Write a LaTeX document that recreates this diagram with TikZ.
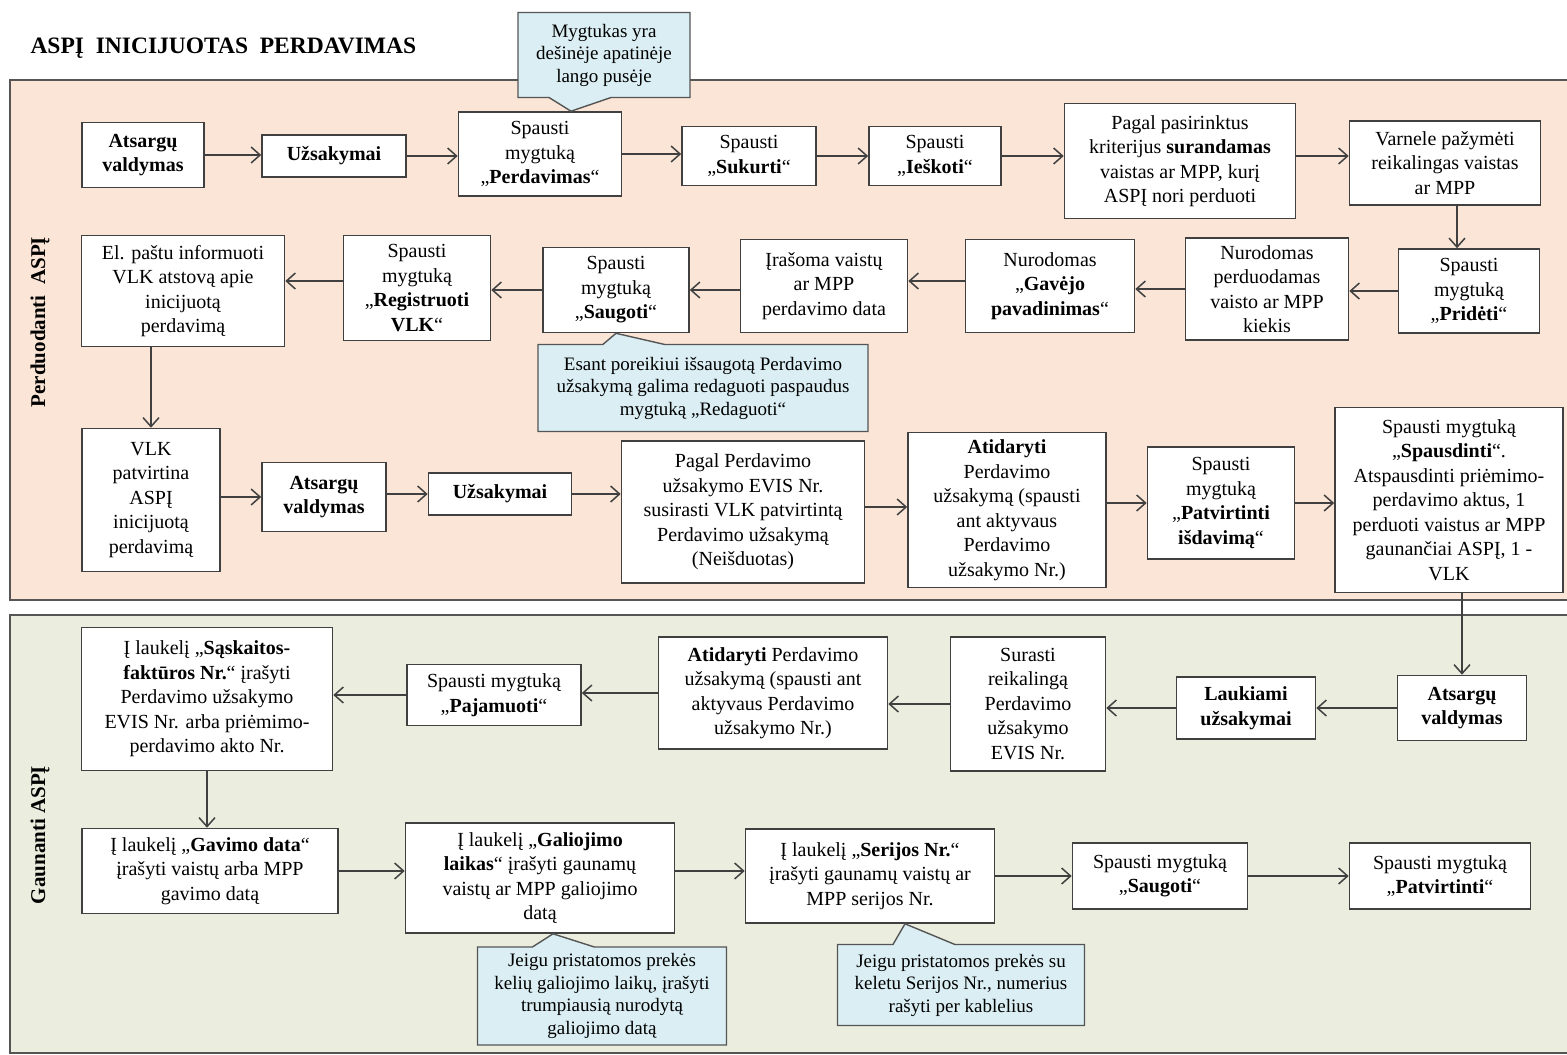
\documentclass[tikz,border=0pt]{standalone}
\usepackage{fontspec}
\setmainfont{Liberation Serif}
\usetikzlibrary{arrows.meta,shapes.callouts,calc}

\definecolor{peach}{HTML}{FBE5D6}
\definecolor{sage}{HTML}{EBEEDF}
\definecolor{notefill}{HTML}{DAEEF3}
\definecolor{lineclr}{HTML}{404040}
\definecolor{laneclr}{HTML}{555555}

\tikzset{>={Straight Barb[length=9pt,width=16pt]}}
\tikzset{
  proc/.style={draw=lineclr,line width=1.6pt,fill=white,align=center,
    inner sep=3pt,font=\fontsize{20}{24.5}\selectfont},
  note/.style={rectangle callout,draw=laneclr,line width=1.4pt,fill=notefill,
    align=center,inner sep=3pt,callout pointer width=62pt,
    font=\fontsize{19}{22.5}\selectfont},
  lane/.style={draw=laneclr,line width=1.6pt},
  lanelabel/.style={rotate=90,font=\fontsize{21}{24}\selectfont\bfseries},
  flow/.style={->,draw=lineclr,line width=1.5pt},
}

\begin{document}
\begin{tikzpicture}[x=1pt,y=-1pt]
\useasboundingbox (0,0) rectangle (1567,1055);

% swimlanes
\draw [lane,fill=peach] (10,80) rectangle (1590,600);
\draw [lane,fill=sage] (10,615) rectangle (1590,1053);
\node [anchor=west,font=\fontsize{23.5}{26}\selectfont\bfseries] (title) at (27,48) {ASPĮ\ \ INICIJUOTAS\ \ PERDAVIMAS};
\node [lanelabel] (lblsend) at (40,322) {Perduodanti\ \ ASPĮ};
\node [lanelabel] (lblrecv) at (40,835) {Gaunanti ASPĮ};

% sending side, first row
\node [proc,minimum width=122pt,minimum height=65pt] (a1) at (143,155) {\textbf{Atsargų}\\\textbf{valdymas}};
\node [proc,minimum width=144pt,minimum height=42pt] (a2) at (334,156) {\textbf{Užsakymai}};
\node [proc,minimum width=163pt,minimum height=84pt] (a3) at (540,154) {Spausti\\mygtuką\\„\textbf{Perdavimas}“};
\node [proc,minimum width=134pt,minimum height=59pt] (a4) at (749,156) {Spausti\\„\textbf{Sukurti}“};
\node [proc,minimum width=132pt,minimum height=59pt] (a5) at (935,156) {Spausti\\„\textbf{Ieškoti}“};
\node [proc,minimum width=231pt,minimum height=115pt] (a6) at (1180,161) {Pagal pasirinktus\\kriterijus \textbf{surandamas}\\vaistas ar MPP, kurį\\ASPĮ nori perduoti};
\node [proc,minimum width=191pt,minimum height=84pt] (a7) at (1445,163) {Varnele pažymėti\\reikalingas vaistas\\ar MPP};

% sending side, second row
\node [proc,minimum width=141pt,minimum height=84pt] (b1) at (1469,291) {Spausti\\mygtuką\\„\textbf{Pridėti}“};
\node [proc,minimum width=163pt,minimum height=102pt] (b2) at (1267,289) {Nurodomas\\perduodamas\\vaisto ar MPP\\kiekis};
\node [proc,minimum width=169pt,minimum height=93pt] (b3) at (1050,286) {Nurodomas\\„\textbf{Gavėjo}\\\textbf{pavadinimas}“};
\node [proc,minimum width=167pt,minimum height=93pt] (b4) at (824,286) {Įrašoma vaistų\\ar MPP\\perdavimo data};
\node [proc,minimum width=146pt,minimum height=85pt] (b5) at (616,290) {Spausti\\mygtuką\\„\textbf{Saugoti}“};
\node [proc,minimum width=147pt,minimum height=105pt] (b6) at (417,288) {Spausti\\mygtuką\\„\textbf{Registruoti}\\\textbf{VLK}“};
\node [proc,minimum width=203pt,minimum height=111pt] (b7) at (183,291) {El. paštu informuoti\\VLK atstovą apie\\inicijuotą\\perdavimą};

% sending side, third row
\node [proc,minimum width=138pt,minimum height=143pt] (c1) at (151,500) {VLK\\patvirtina\\ASPĮ\\inicijuotą\\perdavimą};
\node [proc,minimum width=124pt,minimum height=69pt] (c2) at (324,497) {\textbf{Atsargų}\\\textbf{valdymas}};
\node [proc,minimum width=143pt,minimum height=42pt] (c3) at (500,494) {\textbf{Užsakymai}};
\node [proc,minimum width=243pt,minimum height=142pt] (c4) at (743,512) {Pagal Perdavimo\\užsakymo EVIS Nr.\\susirasti VLK patvirtintą\\Perdavimo užsakymą\\(Neišduotas)};
\node [proc,minimum width=198pt,minimum height=155pt] (c5) at (1007,510) {\textbf{Atidaryti}\\Perdavimo\\užsakymą (spausti\\ant aktyvaus\\Perdavimo\\užsakymo Nr.)};
\node [proc,minimum width=147pt,minimum height=112pt] (c6) at (1221,503) {Spausti\\mygtuką\\„\textbf{Patvirtinti}\\\textbf{išdavimą}“};
\node [proc,minimum width=228pt,minimum height=185pt] (c7) at (1449,500) {Spausti mygtuką\\„\textbf{Spausdinti}“.\\Atspausdinti priėmimo-\\perdavimo aktus, 1\\perduoti vaistus ar MPP\\gaunančiai ASPĮ, 1 -\\VLK};

% receiving side, first row
\node [proc,minimum width=129pt,minimum height=65pt] (d1) at (1462,708) {\textbf{Atsargų}\\\textbf{valdymas}};
\node [proc,minimum width=139pt,minimum height=62pt] (d2) at (1246,708) {\textbf{Laukiami}\\\textbf{užsakymai}};
\node [proc,minimum width=155pt,minimum height=134pt] (d3) at (1028,704) {Surasti\\reikalingą\\Perdavimo\\užsakymo\\EVIS Nr.};
\node [proc,minimum width=229pt,minimum height=112pt] (d4) at (773,693) {\textbf{Atidaryti} Perdavimo\\užsakymą (spausti ant\\aktyvaus Perdavimo\\užsakymo Nr.)};
\node [proc,minimum width=174pt,minimum height=61pt] (d5) at (494,695) {Spausti mygtuką\\„\textbf{Pajamuoti}“};
\node [proc,minimum width=251pt,minimum height=143pt] (d6) at (207,699) {Į laukelį „\textbf{Sąskaitos-}\\\textbf{faktūros Nr.}“ įrašyti\\Perdavimo užsakymo\\EVIS Nr. arba priėmimo-\\perdavimo akto Nr.};

% receiving side, second row
\node [proc,minimum width=256pt,minimum height=85pt] (e1) at (210,871) {Į laukelį „\textbf{Gavimo data}“\\įrašyti vaistų arba MPP\\gavimo datą};
\node [proc,minimum width=269pt,minimum height=110pt] (e2) at (540,878) {Į laukelį „\textbf{Galiojimo}\\\textbf{laikas}“ įrašyti gaunamų\\vaistų ar MPP galiojimo\\datą};
\node [proc,minimum width=249pt,minimum height=94pt] (e3) at (870,876) {Į laukelį „\textbf{Serijos Nr.}“\\įrašyti gaunamų vaistų ar\\MPP serijos Nr.};
\node [proc,minimum width=175pt,minimum height=66pt] (e4) at (1160,876) {Spausti mygtuką\\„\textbf{Saugoti}“};
\node [proc,minimum width=181pt,minimum height=66pt] (e5) at (1440,876) {Spausti mygtuką\\„\textbf{Patvirtinti}“};

% notes
\node [note,minimum width=172pt,minimum height=85pt,callout absolute pointer={([xshift=31pt]a3.north)}] (n1) at (604,55) {Mygtukas yra\\dešinėje apatinėje\\lango pusėje};
\node [note,minimum width=330pt,minimum height=87pt,callout absolute pointer={(b5.south)}] (n2) at (703,388) {Esant poreikiui išsaugotą Perdavimo\\užsakymą galima redaguoti paspaudus\\mygtuką „Redaguoti“};
\node [note,minimum width=249pt,minimum height=98pt,callout absolute pointer={([xshift=13pt]e2.south)}] (n3) at (602,996) {Jeigu pristatomos prekės\\kelių galiojimo laikų, įrašyti\\trumpiausią nurodytą\\galiojimo datą};
\node [note,minimum width=247pt,minimum height=81pt,callout absolute pointer={([xshift=35pt]e3.south)}] (n4) at (961,985) {Jeigu pristatomos prekės su\\keletu Serijos Nr., numerius\\rašyti per kablelius};

% connectors
\coordinate (ab) at ($(a7.south)!0.5!(a7.south -| b1)$);
\draw [flow] (a1) -- (a1 -| a2.west);
\draw [flow] (a2) -- (a2 -| a3.west);
\draw [flow] (a3) -- (a3 -| a4.west);
\draw [flow] (a4) -- (a4 -| a5.west);
\draw [flow] (a5) -- (a5 -| a6.west);
\draw [flow] (a5 -| a6.east) -- (a5 -| a7.west);
\draw [flow] (ab) -- (ab |- b1.north);

\draw [flow] (b1) -- (b1 -| b2.east);
\draw [flow] (b2) -- (b2 -| b3.east);
\draw [flow] ([yshift=5pt]b3.west) -- ([yshift=5pt]b3.west -| b4.east);
\draw [flow] (b4.west |- b5) -- (b5);
\draw [flow] (b5) -- (b5 -| b6.east);
\draw [flow] ([yshift=7pt]b6.west) -- ([yshift=7pt]b6.west -| b7.east);
\draw [flow] (c1 |- b7.south) -- (c1);

\draw [flow] (c1.east |- c2) -- (c2);
\draw [flow] (c3 -| c2.east) -- (c3);
\draw [flow] (c3) -- (c3 -| c4.west);
\draw [flow] ([yshift=5pt]c4.east) -- ([yshift=5pt]c4.east -| c5.west);
\draw [flow] (c5.east |- c6) -- (c6);
\draw [flow] (c6) -- (c6 -| c7.west);
\draw [flow] (d1 |- c7.south) -- (d1);

\draw [flow] (d1) -- (d1 -| d2.east);
\draw [flow] (d2) -- (d2 -| d3.east);
\draw [flow] (d3) -- (d3 -| d4.east);
\draw [flow] (d4) -- (d4 -| d5.east);
\draw [flow] (d5) -- (d5 -| d6.east);
\draw [flow] (d6) -- (d6 |- e1.north);

\draw [flow] (e1) -- (e1 -| e2.west);
\draw [flow] (e2.east |- e1) -- (e1 -| e3.west);
\draw [flow] (e3) -- (e3 -| e4.west);
\draw [flow] (e4) -- (e4 -| e5.west);
\end{tikzpicture}
\end{document}
